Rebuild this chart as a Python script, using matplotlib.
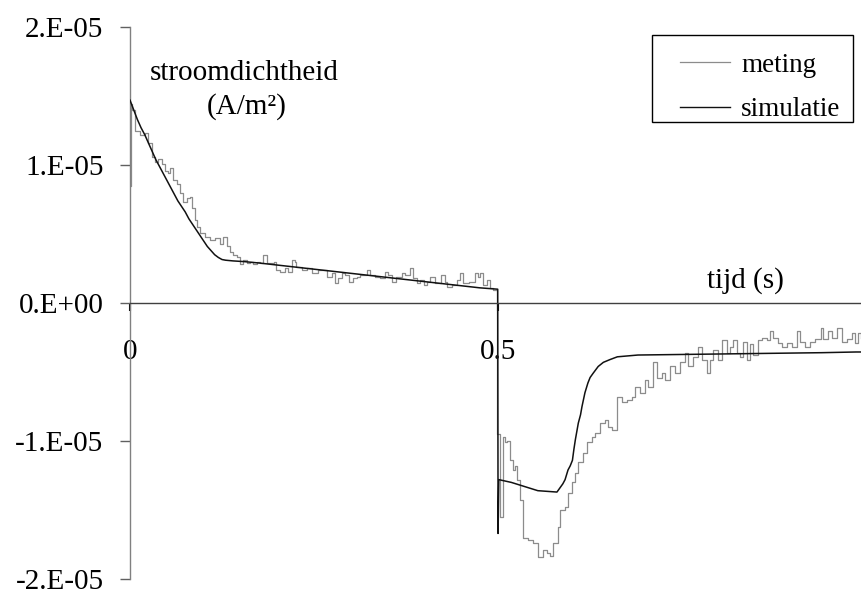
import numpy as np
import matplotlib
matplotlib.use("Agg")
import matplotlib.pyplot as plt
from matplotlib.patches import Rectangle
from matplotlib.lines import Line2D

plt.rcParams['font.family'] = ['Liberation Serif', 'DejaVu Serif']

# ---- data (current density in units of 1e-6 A/m^2, time in s) ----
meting_t = [0.000, 0.002, 0.003, 0.007, 0.014, 0.020, 0.024, 0.030, 0.034, 0.038, 0.043,
            0.048, 0.052, 0.054, 0.058, 0.064, 0.068, 0.072, 0.077, 0.082, 0.084, 0.088,
            0.091, 0.095, 0.102, 0.109, 0.115, 0.122, 0.126, 0.132, 0.136, 0.140, 0.145,
            0.149, 0.154, 0.159, 0.163, 0.167, 0.173,
            0.177, 0.181, 0.186, 0.195, 0.199, 0.204, 0.211, 0.215, 0.220, 0.224, 0.226,
            0.233, 0.240, 0.247, 0.256, 0.263, 0.267, 0.274, 0.279, 0.283, 0.288, 0.292,
            0.297, 0.303, 0.308, 0.3125, 0.322, 0.326, 0.333, 0.340, 0.346, 0.351, 0.356,
            0.362, 0.369, 0.374, 0.380, 0.385, 0.390, 0.394, 0.399, 0.403, 0.408, 0.414,
            0.423, 0.428, 0.430, 0.437, 0.444, 0.448, 0.453, 0.460, 0.464, 0.469, 0.473,
            0.476, 0.480, 0.485, 0.489, 0.493,
            0.499, 0.503, 0.507, 0.510, 0.512, 0.516, 0.520, 0.523, 0.526, 0.530, 0.534,
            0.541, 0.548, 0.554, 0.561, 0.567, 0.571, 0.575, 0.582, 0.584, 0.591, 0.595,
            0.601, 0.605, 0.609, 0.615, 0.621, 0.628, 0.632, 0.639, 0.645, 0.649, 0.655,
            0.662, 0.668, 0.675, 0.682, 0.686, 0.693, 0.700, 0.704, 0.711, 0.716, 0.723,
            0.727, 0.734, 0.740, 0.747, 0.754, 0.758, 0.765, 0.772, 0.777, 0.784, 0.788,
            0.792, 0.799, 0.804, 0.811, 0.815, 0.819, 0.825, 0.829, 0.833, 0.838, 0.842,
            0.846, 0.853, 0.859, 0.865, 0.870, 0.874, 0.880, 0.886, 0.893, 0.899, 0.906,
            0.910, 0.917, 0.924, 0.931, 0.938, 0.942, 0.948, 0.954, 0.961, 0.967, 0.974,
            0.981, 0.985, 0.989, 0.993]
meting_v = [8.5, 14.4, 14.0, 12.5, 12.2, 12.3, 11.6, 10.6, 10.2, 10.4, 10.1,
            9.6, 9.4, 9.8, 8.9, 8.6, 8.0, 7.3, 7.6, 7.7, 6.9, 6.0,
            5.5, 5.1, 4.8, 4.6, 4.7, 4.3, 4.8, 4.1, 3.7, 3.5, 3.3,
            2.8, 3.1, 2.9, 3.0, 2.8, 3.0,
            2.88, 3.48, 2.88, 3.0, 2.39, 2.27, 2.51, 2.27, 3.12, 3.0, 2.63,
            2.39, 2.51, 2.15, 2.39, 2.39, 1.91, 2.15, 1.43, 1.79, 2.15, 2.03,
            1.55, 1.79, 1.91, 2.03, 2.39, 2.03, 1.91, 1.79, 2.27, 2.03, 1.55,
            1.91, 2.15, 2.03, 2.51, 1.79, 1.43, 1.67, 1.30, 1.55, 1.91, 1.43,
            2.03, 1.55, 1.18, 1.30, 1.67, 2.15, 1.43, 1.55, 1.55, 2.15, 1.91,
            2.15, 1.30, 1.67, 1.06, 0.94,
            -9.5, -15.5, -9.7, -10.1, -10.0, -11.4, -12.1, -11.8, -12.8, -14.3, -17.0,
            -17.2, -17.4, -18.4, -17.9, -18.1, -18.3, -17.4, -16.2, -15.0, -14.8, -13.8,
            -13.0, -12.3, -11.5, -10.9, -10.1, -9.7, -9.4, -8.7, -8.5, -9.0, -9.2,
            -6.8, -7.2, -7.0, -6.8, -6.1, -6.5, -5.6, -6.1, -4.3, -5.4, -5.1,
            -5.6, -4.6, -5.1, -4.3, -3.6, -4.6, -3.9, -3.2, -4.1, -5.1, -4.1,
            -3.4, -4.1, -2.7, -3.6, -3.2, -2.7, -3.6, -3.9, -2.8, -4.1, -3.0,
            -3.8, -2.7, -2.5, -2.7, -2.0, -2.5, -2.9, -3.2, -2.9, -3.2, -2.0,
            -2.8, -3.2, -2.8, -2.6, -1.8, -2.6, -2.0, -2.5, -1.8, -2.8, -2.6,
            -2.2, -2.9, -2.2, -2.5]

simulatie_t = [0.000, 0.005, 0.010, 0.015, 0.020, 0.025, 0.030, 0.035, 0.040, 0.045,
               0.050, 0.055, 0.060, 0.065, 0.070, 0.075, 0.080, 0.085, 0.090, 0.095,
               0.100, 0.105, 0.110, 0.115, 0.120, 0.125, 0.130, 0.140, 0.155, 0.175,
               0.200, 0.225, 0.250, 0.275, 0.300, 0.325, 0.350, 0.375, 0.400, 0.425,
               0.450, 0.475, 0.4995, 0.500, 0.501, 0.518, 0.536, 0.554, 0.580, 0.584,
               0.588, 0.591, 0.595, 0.598, 0.601, 0.603, 0.605, 0.607, 0.609, 0.612,
               0.614, 0.618, 0.622, 0.625, 0.629, 0.636, 0.643, 0.652, 0.662, 0.690,
               0.940, 0.986, 0.993]
simulatie_v = [14.7, 14.0, 13.3, 12.7, 12.2, 11.6, 11.0, 10.4, 9.9, 9.4,
               8.9, 8.4, 7.9, 7.4, 7.0, 6.6, 6.1, 5.7, 5.3, 4.9,
               4.5, 4.1, 3.8, 3.5, 3.3, 3.15, 3.1, 3.05, 3.0, 2.9,
               2.75, 2.6, 2.45, 2.3, 2.15, 2.0, 1.85, 1.7, 1.55, 1.4,
               1.25, 1.1, 1.0, -16.7, -12.8, -13.0, -13.3, -13.6, -13.7, -13.4,
               -13.1, -12.8, -12.1, -11.8, -11.4, -10.6, -9.9, -9.3, -8.7, -8.1,
               -7.5, -6.5, -5.8, -5.4, -5.1, -4.6, -4.3, -4.1, -3.9, -3.77,
               -3.6, -3.55, -3.55]

scale = 1e-6
yticks = [2e-5, 1e-5, 0.0, -1e-5, -2e-5]
ytick_labels = ["2.E-05", "1.E-05", "0.E+00", "-1.E-05", "-2.E-05"]
xticks = [0.0, 0.5]
xtick_labels = ["0", "0.5"]
series_names = ["meting", "simulatie"]
series_colors = ["#8c8c8c", "#111111"]

W, H = 861, 593
fig = plt.figure(figsize=(W / 100, H / 100), dpi=100)
ax = fig.add_axes([130 / W, 14 / H, (W - 130) / W, 552 / H])

ax.plot(meting_t, np.array(meting_v) * scale, color=series_colors[0], lw=0.9,
        drawstyle='steps-post', label=series_names[0], zorder=2)
ax.plot(simulatie_t, np.array(simulatie_v) * scale, color=series_colors[1], lw=1.1,
        label=series_names[1], zorder=3)

ax.set_xlim(0, 0.993)
ax.set_ylim(-2e-5, 2e-5)

for s in ['top', 'right']:
    ax.spines[s].set_visible(False)
ax.spines['left'].set_color('#808080')
ax.spines['left'].set_linewidth(1.0)
ax.spines['bottom'].set_position(('data', 0))
ax.spines['bottom'].set_color('#404040')
ax.spines['bottom'].set_linewidth(1.0)
ax.spines['bottom'].set_zorder(4)

ax.set_yticks(yticks)
ax.set_yticklabels(ytick_labels)
ax.set_xticks(xticks)
ax.set_xticklabels(xtick_labels)
ax.tick_params(axis='y', direction='out', length=7, width=1, color='#606060',
               pad=12, labelsize=21)
ax.tick_params(axis='x', direction='out', length=6, width=1.5, color='black',
               pad=20, labelsize=21)

fig.text(244 / W, 1 - 80 / H, "stroomdichtheid", ha='center', va='baseline', fontsize=21)
fig.text(247 / W, 1 - 114 / H, "(A/m²)", ha='center', va='baseline', fontsize=21)
fig.text(745 / W, 1 - 288 / H, "tijd (s)", ha='center', va='baseline', fontsize=21)

# legend: box with a wider left margin, as in the reference
fig.add_artist(Rectangle((652 / W, 1 - 122 / H), (853 - 652) / W, (122 - 35) / H,
                         transform=fig.transFigure, fill=False, edgecolor='black',
                         linewidth=1.0))
for i, (name, col) in enumerate(zip(series_names, series_colors)):
    yc = 1 - (62 + 45 * i) / H
    fig.add_artist(Line2D([680 / W, 730 / W], [yc, yc], transform=fig.transFigure,
                          color=col, lw=1.0 if i else 0.9))
    fig.text(741 / W, yc, name, ha='left', va='center_baseline', fontsize=19.5)

fig.savefig("out.png", dpi=100)
